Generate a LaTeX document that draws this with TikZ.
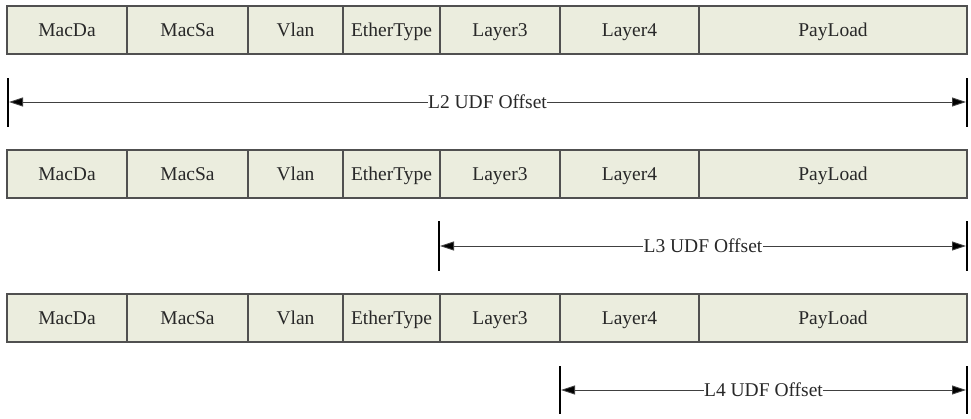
\documentclass[tikz,border=0pt]{standalone}
\usepackage{fontspec}
\setmainfont{Liberation Serif}
\usetikzlibrary{arrows.meta}
\definecolor{cellfill}{RGB}{235,237,222}
\definecolor{cellline}{RGB}{80,80,80}
\definecolor{txt}{RGB}{40,40,40}
\begin{document}
\begin{tikzpicture}[x=1pt,y=-1pt,
  cell/.style={draw=cellline, line width=1.3pt, fill=cellfill, anchor=north west,
    minimum height=48pt, inner sep=0pt, outer sep=0pt, text=txt,
    text height=16pt, text depth=4pt,
    font=\fontsize{19.5}{20}\selectfont},
  tick/.style={line width=1.6pt, black},
  tip/.tip={Triangle[length=14pt,width=9pt,fill=black]},
  span/.style={line width=0.9pt, draw=black!75, tip-tip},
  lbl/.style={fill=white, inner sep=0.5pt, text=txt, font=\fontsize{19.5}{20}\selectfont}]
\useasboundingbox (0,0) rectangle (971,418);

% three copies of the frame layout
\foreach \r/\y in {1/6, 2/150, 3/294} {
  \node[cell, minimum width=120pt] (r\r a) at (7,\y)   {MacDa};
  \node[cell, minimum width=121pt] (r\r b) at (127,\y) {MacSa};
  \node[cell, minimum width=95pt]  (r\r c) at (248,\y) {Vlan};
  \node[cell, minimum width=97pt]  (r\r d) at (343,\y) {EtherType};
  \node[cell, minimum width=120pt] (r\r e) at (440,\y) {Layer3};
  \node[cell, minimum width=139pt] (r\r f) at (560,\y) {Layer4};
  \node[cell, minimum width=268pt] (r\r g) at (699,\y) {PayLoad};
}

% end markers of the offset spans
\coordinate (l2at) at (8,78);   \coordinate (l2ab) at (8,127);
\coordinate (l2bt) at (967,78); \coordinate (l2bb) at (967,127);
\coordinate (l3at) at (439,221); \coordinate (l3ab) at (439,271);
\coordinate (l3bt) at (967,221); \coordinate (l3bb) at (967,271);
\coordinate (l4at) at (560,366); \coordinate (l4ab) at (560,414);
\coordinate (l4bt) at (967,366); \coordinate (l4bb) at (967,414);
\foreach \s in {l2, l3, l4} {
  \draw[tick] (\s at) -- (\s ab);
  \draw[tick] (\s bt) -- (\s bb);
}

% offset spans
\coordinate (l2a) at (9,102);   \coordinate (l2b) at (966,102);
\coordinate (l3a) at (440,246); \coordinate (l3b) at (966,246);
\coordinate (l4a) at (561,390); \coordinate (l4b) at (966,390);
\draw[span] (l2a) -- node[lbl] (l2t) {L2 UDF Offset} (l2b);
\draw[span] (l3a) -- node[lbl] (l3t) {L3 UDF Offset} (l3b);
\draw[span] (l4a) -- node[lbl] (l4t) {L4 UDF Offset} (l4b);
\end{tikzpicture}
\end{document}
